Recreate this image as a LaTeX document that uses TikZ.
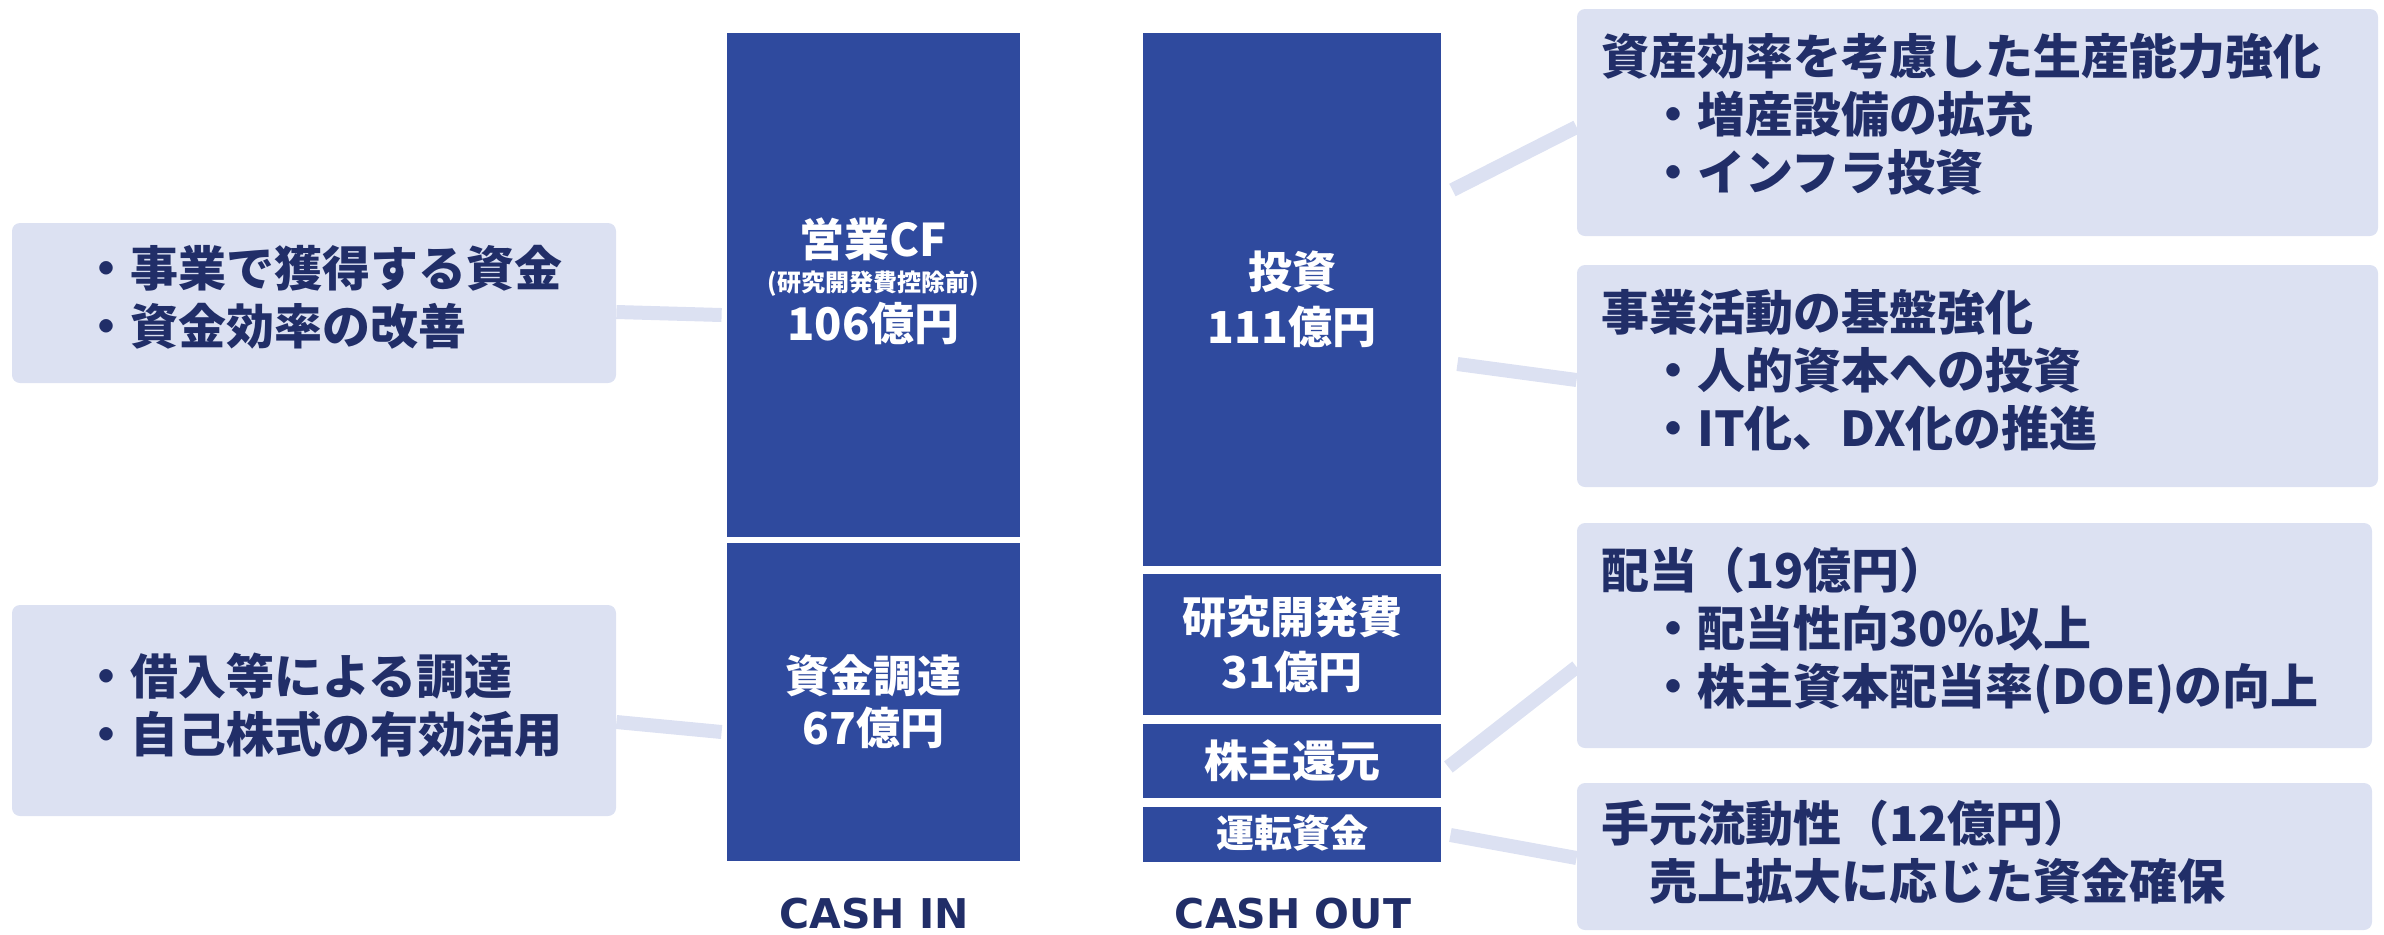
\documentclass[tikz,border=0pt]{standalone}
\usepackage{fontspec}
\setmainfont{Noto Sans CJK JP}
\newfontfamily\latfont{DejaVu Sans}
\usetikzlibrary{calc}
\definecolor{barblue}{RGB}{47,74,158}
\definecolor{boxlav}{RGB}{220,225,242}
\definecolor{navy}{RGB}{33,46,104}
\begin{document}
\begin{tikzpicture}[x=0.5pt,y=-0.5pt,
  bar/.style={fill=barblue, draw=none, text=white, font=\bfseries\fontsize{22}{27.5}\selectfont, align=center, inner sep=0},
  bartext/.style={text=white, font=\bfseries\fontsize{22.5}{27.5}\selectfont, inner sep=0},
  infobox/.style={fill=boxlav, draw=none, rounded corners=4pt, inner sep=0},
  boxtext/.style={text=navy, font=\bfseries\fontsize{24}{29}\selectfont, align=left, anchor=west, inner sep=0},
  conn/.style={draw=boxlav, line width=7pt},
  axislabel/.style={text=navy, font=\latfont\bfseries\fontsize{20.5}{24}\selectfont, inner sep=0}]
\useasboundingbox (0,0) rectangle (2384,934);

% left boxes
\node[infobox, minimum width=302pt, minimum height=80pt] (l1) at (314,303) {};
\node[infobox, minimum width=302pt, minimum height=105.5pt] (l2) at (314,710.5) {};
\node[boxtext] (l1t) at (82,297) {・事業で獲得する資金\\・資金効率の改善};
\node[boxtext] (l2t) at (82,705) {・借入等による調達\\・自己株式の有効活用};

% cash in bars
\node[bar, minimum width=146.5pt, minimum height=252pt] (cf) at (873.5,285) {};
\node[bartext] (cft1) at (873.5,239) {営業CF};
\node[bartext, font=\bfseries\fontsize{12}{14}\selectfont] (cft2) at (873.5,284) {(研究開発費控除前)};
\node[bartext] (cft3) at (873.5,323) {106億円};
\node[bar, minimum width=146.5pt, minimum height=159pt, font=\bfseries\fontsize{22}{26}\selectfont] (fund) at (873.5,702) {資金調達\\67億円};

% cash out bars
\node[bar, minimum width=149pt, minimum height=266.5pt] (inv) at (1292,299.5) {投資\\111億円};
\node[bar, minimum width=149pt, minimum height=70.5pt] (rd) at (1292,644.5) {研究開発費\\31億円};
\node[bar, minimum width=149pt, minimum height=37pt] (sh) at (1292,761) {株主還元};
\node[bar, minimum width=149pt, minimum height=27.5pt, font=\bfseries\fontsize{19}{22}\selectfont] (wc) at (1292,834.5) {\raisebox{3.5pt}{運転資金}};

% labels
\node[axislabel] (cin) at (874,914) {CASH IN};
\node[axislabel] (cout) at (1293,914) {CASH OUT};

% right boxes
\node[infobox, minimum width=400.5pt, minimum height=113.5pt] (r1) at (1977.5,122.5) {};
\node[infobox, minimum width=400.5pt, minimum height=111pt] (r2) at (1977.5,376) {};
\node[infobox, minimum width=397.5pt, minimum height=112.5pt] (r3) at (1974.5,635.5) {};
\node[infobox, minimum width=397.5pt, minimum height=73.5pt] (r4) at (1974.5,856.5) {};
\node[boxtext] (r1t) at (1601,114.5) {資産効率を考慮した生産能力強化\\　・増産設備の拡充\\　・インフラ投資};
\node[boxtext] (r2t) at (1601,370.5) {事業活動の基盤強化\\　・人的資本への投資\\　・IT化、DX化の推進};
\node[boxtext] (r3t) at (1601,631) {配当（19億円）\\　・配当性向30\%以上\\　・株主資本配当率(DOE)の向上};
\node[boxtext] (r4t) at (1601,852.5) {手元流動性（12億円）\\　売上拡大に応じた資金確保};

% connectors
\draw[conn] ($(l1.east)+(0,9)$) -- ($(cf.west)+(-5,30)$);
\draw[conn] ($(l2.east)+(0,11.5)$) -- ($(fund.west)+(-5,30)$);
\draw[conn] ($(inv.east)+(11,-109.5)$) -- ($(r1.west)+(0,4.5)$);
\draw[conn] ($(inv.east)+(16,64.5)$) -- ($(r2.west)+(0,4)$);
\draw[conn] ($(sh.east)+(7,6)$) -- ($(r3.west)+(0,31.5)$);
\draw[conn] ($(wc.east)+(9,0.5)$) -- ($(r4.west)+(0,1.5)$);
\end{tikzpicture}
\end{document}
